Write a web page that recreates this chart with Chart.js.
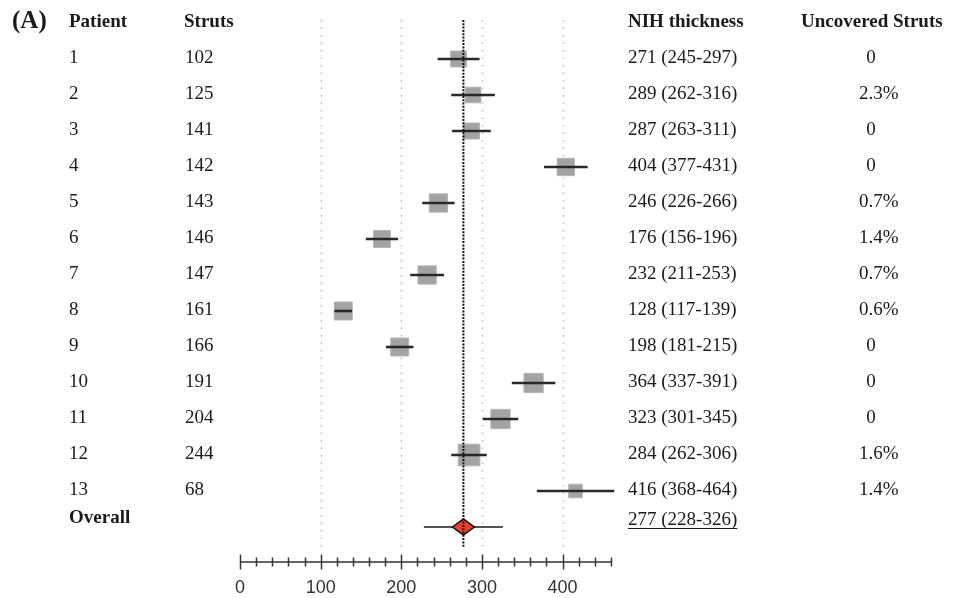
<!DOCTYPE html>
<html>
<head>
<meta charset="utf-8">
<script src="https://cdn.jsdelivr.net/npm/chart.js@4.4.1/dist/chart.umd.min.js"></script>
<style>
html,body{margin:0;padding:0;background:#fff;}
#wrap{width:961px;height:598px;position:relative;}
</style>
</head>
<body>
<div id="wrap"><canvas id="c" width="961" height="598"></canvas></div>
<script>
const patients = ['1','2','3','4','5','6','7','8','9','10','11','12','13'];
const struts = ['102','125','141','142','143','146','147','161','166','191','204','244','68'];
const nih = [271,289,287,404,246,176,232,128,198,364,323,284,416];
const ciLow = [245,262,263,377,226,156,211,117,181,337,301,262,368];
const ciHigh = [297,316,311,431,266,196,253,139,215,391,345,306,464];
const uncovered = ['0','2.3%','0','0','0.7%','1.4%','0.7%','0.6%','0','0','0','1.6%','1.4%'];
const weights = [6.2,6.0,6.3,7.4,8.3,7.1,8.3,8.0,8.0,9.2,9.2,11.6,4.5];
const overall = {mean:277, low:228, high:326};
const xTicksMajor = [0,100,200,300,400];
const headers = {panel:'(A)', patient:'Patient', struts:'Struts', nih:'NIH thickness', unc:'Uncovered Struts', overall:'Overall'};

const overallRow = 14;
const overallTextRow = 13.78;
const headerRow = -0.05;

const serif = '"Liberation Serif","Times New Roman",serif';

const datasets = [];
datasets.push({
  type:'scatter',
  data: nih.map((v,i)=>({x:v,y:i+1})),
  pointStyle:'rect',
  pointRadius: ctx => 4.5*Math.sqrt(weights[ctx.dataIndex] || 1),
  pointHoverRadius: ctx => 4.5*Math.sqrt(weights[ctx.dataIndex] || 1),
  backgroundColor:'#a3a3a3',
  borderColor:'#b5b5b5',
  borderWidth:1,
  order:2
});
nih.forEach((v,i)=>{
  datasets.push({
    type:'line',
    data:[{x:ciLow[i],y:i+1},{x:ciHigh[i],y:i+1}],
    borderColor:'#282828',
    borderWidth:2.6,
    pointRadius:0,
    showLine:true,
    fill:false,
    clip:false,
    order:1
  });
});
datasets.push({
  type:'line',
  data:[{x:overall.low,y:overallRow},{x:overall.high,y:overallRow}],
  borderColor:'#1a1a1a',
  borderWidth:1.6,
  pointRadius:0,
  showLine:true,
  fill:false,
  clip:false,
  order:1
});

const forestPlugin = {
  id:'forest',
  beforeDatasetsDraw(chart){
    const ctx = chart.ctx, xs = chart.scales.x, a = chart.chartArea;
    ctx.save();
    ctx.strokeStyle = '#bdbdbd';
    ctx.lineWidth = 1.5;
    ctx.setLineDash([1.5,6]);
    xTicksMajor.forEach(v=>{
      if (v === 0) return;
      const px = Math.round(xs.getPixelForValue(v)) + 0.5;
      ctx.beginPath();
      ctx.moveTo(px, a.top);
      ctx.lineTo(px, a.bottom);
      ctx.stroke();
    });
    ctx.restore();
  },
  afterDatasetsDraw(chart){
    const ctx = chart.ctx, xs = chart.scales.x, ys = chart.scales.y, a = chart.chartArea;
    ctx.save();
    // diamond
    const cx = xs.getPixelForValue(overall.mean), cy = ys.getPixelForValue(overallRow);
    ctx.beginPath();
    ctx.moveTo(cx-11, cy);
    ctx.lineTo(cx, cy-8);
    ctx.lineTo(cx+11, cy);
    ctx.lineTo(cx, cy+8);
    ctx.closePath();
    ctx.fillStyle = '#e8412c';
    ctx.fill();
    ctx.lineWidth = 1.5;
    ctx.strokeStyle = '#111';
    ctx.stroke();
    // dotted overall line
    ctx.beginPath();
    ctx.setLineDash([2,1.3]);
    ctx.lineWidth = 2;
    ctx.strokeStyle = '#111';
    ctx.moveTo(cx, a.top);
    ctx.lineTo(cx, a.bottom);
    ctx.stroke();
    ctx.setLineDash([]);
    // axis
    const ay = a.bottom + 15;
    ctx.strokeStyle = '#333';
    ctx.lineWidth = 1.5;
    ctx.beginPath();
    ctx.moveTo(xs.getPixelForValue(xs.min), ay);
    ctx.lineTo(xs.getPixelForValue(xs.max), ay);
    ctx.stroke();
    xs.ticks.forEach(t=>{
      if (t.value % 20 !== 0) return;
      const px = Math.round(xs.getPixelForValue(t.value)) + 0.5;
      const h = (t.value % 100 === 0) ? 7.5 : 4.5;
      ctx.beginPath();
      ctx.moveTo(px, ay-h);
      ctx.lineTo(px, ay+h);
      ctx.stroke();
    });
    // table text
    ctx.fillStyle = '#1a1a1a';
    ctx.textBaseline = 'alphabetic';
    const hb = ys.getPixelForValue(headerRow) + 6.3;
    ctx.font = 'bold 25px ' + serif;
    ctx.textAlign = 'left';
    ctx.fillText(headers.panel, 12, hb + 1);
    ctx.font = 'bold 19px ' + serif;
    ctx.fillText(headers.patient, 69, hb);
    ctx.fillText(headers.struts, 184, hb);
    ctx.fillText(headers.nih, 628, hb);
    ctx.fillText(headers.unc, 801, hb);
    ctx.font = '19px ' + serif;
    patients.forEach((p,i)=>{
      const by = ys.getPixelForValue(i+1) + 4.5;
      ctx.textAlign = 'left';
      ctx.fillText(p, 69, by);
      ctx.fillText(struts[i], 185, by);
      ctx.fillText(nih[i] + ' (' + ciLow[i] + '-' + ciHigh[i] + ')', 628, by);
      const u = uncovered[i];
      if (u.indexOf('%') >= 0) { ctx.textAlign = 'left'; ctx.fillText(u, 859, by); }
      else { ctx.textAlign = 'center'; ctx.fillText(u, 871, by); }
    });
    const ob = ys.getPixelForValue(overallTextRow) + 6.3;
    ctx.textAlign = 'left';
    ctx.font = 'bold 19px ' + serif;
    ctx.fillText(headers.overall, 69, ob - 2);
    ctx.font = '19px ' + serif;
    const ot = overall.mean + ' (' + overall.low + '-' + overall.high + ')';
    ctx.fillText(ot, 628, ob);
    const w = ctx.measureText(ot).width;
    ctx.lineWidth = 1;
    ctx.strokeStyle = '#1a1a1a';
    ctx.beginPath();
    ctx.moveTo(628, Math.round(ob + 3) + 0.5);
    ctx.lineTo(628 + w, Math.round(ob + 3) + 0.5);
    ctx.stroke();
    ctx.restore();
  }
};

new Chart(document.getElementById('c'), {
  type:'scatter',
  data:{datasets},
  options:{
    responsive:false,
    animation:false,
    devicePixelRatio:1,
    layout:{padding:{left:240, right:350, top:20, bottom:0}},
    plugins:{legend:{display:false}, tooltip:{enabled:false}},
    events:[],
    scales:{
      x:{
        type:'linear', min:0, max:460,
        afterFit(scale){ scale.height = 51; },
        grid:{display:false, drawTicks:false},
        border:{display:false},
        ticks:{
          stepSize:20, autoSkip:false, maxRotation:0, padding:30,
          color:'#333',
          font:{family:'"Liberation Sans", Arial, sans-serif', size:18},
          callback:(v)=> xTicksMajor.includes(v) ? String(v) : ''
        }
      },
      y:{
        type:'linear', reverse:true, min:-0.0833, max:14.5556, display:false
      }
    }
  },
  plugins:[forestPlugin]
});
</script>
</body>
</html>
